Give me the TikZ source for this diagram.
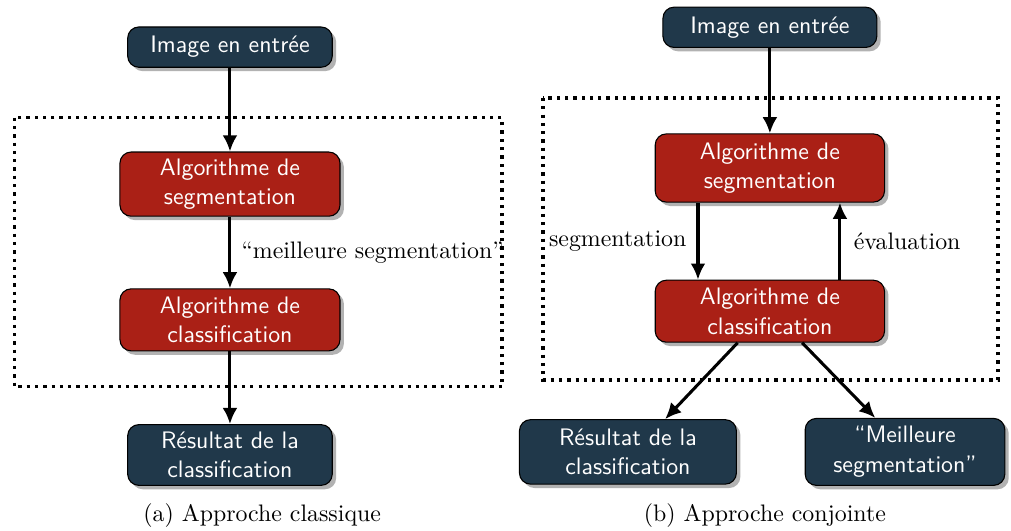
\documentclass[tikz,border=0pt,11pt]{standalone}
\usepackage{xcolor}
\usepackage{tikz}
\usetikzlibrary{positioning,arrows.meta,shadows}
\definecolor{slatebox}{RGB}{32,56,74}
\definecolor{brickbox}{RGB}{170,32,22}

\begin{document}
\begin{tikzpicture}[
  every node/.style={font=\normalsize},
  iobox/.style={draw=black,line width=0.5pt,rounded corners=1.8mm,fill=slatebox,
                text=white,font=\sffamily,align=center,inner sep=3pt,
                minimum width=3.3cm,minimum height=0.65cm,
                drop shadow={shadow xshift=1.8pt,shadow yshift=-1.8pt,fill=black!30,opacity=1}},
  algbox/.style={iobox,fill=brickbox,minimum width=3.55cm,minimum height=1.0cm},
  flow/.style={draw=black,line width=1.4pt,-{Latex[length=2.6mm,width=2.4mm]}},
  frame/.style={draw=black,line width=1.5pt,dash pattern=on 1.5pt off 2.3pt},
  lab/.style={font=\normalsize}
]
\useasboundingbox (0,0) rectangle (16.31,-8.56);
\def\xa{3.71}                                 % x of the left column
\def\xb{12.42}                                % x of the right column

% (a) approche classique
\draw[frame] (0.23,-1.90) rectangle (8.10,-6.24);
\node[iobox]  (inA)  at (\xa,-0.76) {Image en entrée};
\node[algbox] (segA) at (\xa,-2.97) {Algorithme de\\segmentation};
\node[algbox] (clsA) at (\xa,-5.16) {Algorithme de\\classification};
\node[iobox,minimum height=0.98cm] (resA) at (\xa,-7.34) {Résultat de la\\classification};
\node[lab] (capA) at (4.23,-8.32) {(a) Approche classique};

\draw[flow] (inA) -- (segA);
\draw[flow] (segA) -- node[lab,right=1pt] {``meilleure segmentation''} (clsA);
\draw[flow] (clsA) -- (resA);

% (b) approche conjointe
\draw[frame] (8.76,-1.58) rectangle (16.10,-6.13);
\node[iobox,minimum width=3.45cm] (inB) at (\xb,-0.44) {Image en entrée};
\node[algbox,minimum width=3.7cm,minimum height=1.1cm] (segB) at (\xb,-2.71) {Algorithme de\\segmentation};
\node[algbox,minimum width=3.7cm] (clsB) at (\xb,-5.02) {Algorithme de\\classification};
\node[iobox,minimum width=3.5cm,minimum height=1.04cm] (resB) at (10.13,-7.29) {Résultat de la\\classification};
\node[iobox,minimum width=3.22cm,minimum height=1.08cm] (bestB) at (14.60,-7.29) {``Meilleure\\segmentation''};
\node[lab] (capB) at (12.34,-8.32) {(b) Approche conjointe};

\draw[flow] (inB) -- (segB);
\draw[flow] ([xshift=-1.16cm]segB.south) -- node[lab,left=1pt] {segmentation} ([xshift=-1.16cm]clsB.north);
\draw[flow] ([xshift=1.13cm]clsB.north) -- node[lab,right=2pt] {évaluation} ([xshift=1.13cm]segB.south);
\draw[flow] ([xshift=-0.52cm]clsB.south) -- ([xshift=0.6cm]resB.north);
\draw[flow] ([xshift=0.52cm]clsB.south) -- ([xshift=-0.48cm]bestB.north);
\end{tikzpicture}
\end{document}
